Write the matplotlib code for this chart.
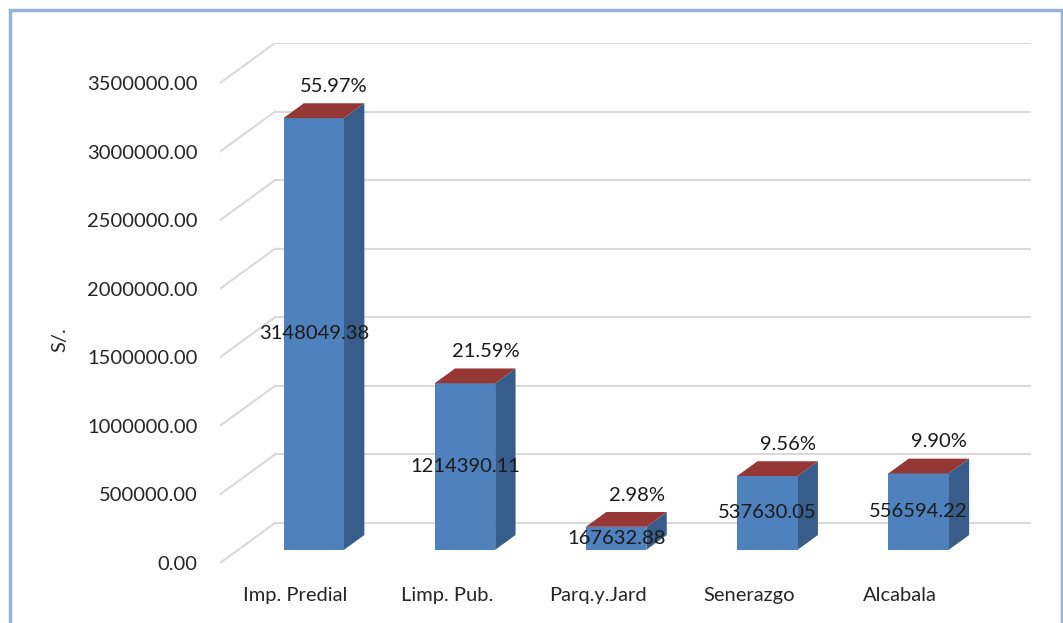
import matplotlib.pyplot as plt
from matplotlib.patches import Polygon, Rectangle

categories = ['Imp. Predial', 'Limp. Pub.', 'Parq.y.Jard', 'Senerazgo', 'Alcabala']
values = [3148049.38, 1214390.11, 167632.88, 537630.05, 556594.22]
percents = ['55.97%', '21.59%', '2.98%', '9.56%', '9.90%']
yticks = [0, 500000, 1000000, 1500000, 2000000, 2500000, 3000000, 3500000]

plt.rcParams['font.family'] = ['Lato', 'DejaVu Sans']

# oblique "3D" offsets in data units (depth of the floor)
DX = 0.364
DY = 291667
Z0, Z1 = 0.33, 0.70   # bar depth range (fraction of floor depth)
W = 0.4               # bar width in category units

front_c = '#4F81BD'
side_c = '#385D8A'
top_c = '#953735'
grid_c = '#D9D9D9'

fig = plt.figure(figsize=(10.63, 6.23), dpi=100)
ax = fig.add_axes([220 / 1063, 1 - 563 / 623, (1031 - 220) / 1063, (563 - 43) / 623])
ax.set_xlim(0, len(categories) + DX)
ax.set_ylim(0, yticks[-1] + DY)

# back wall grid + side wall diagonals
for t in yticks:
    ax.plot([DX, len(categories) + DX], [t + DY, t + DY], color=grid_c, lw=1.5, zorder=1)
    ax.plot([0, DX], [t, t + DY], color=grid_c, lw=1.5, zorder=1)

for i, (v, p) in enumerate(zip(values, percents)):
    x0 = i + 0.5 - W / 2
    x1 = i + 0.5 + W / 2
    ox0, oy0 = Z0 * DX, Z0 * DY
    ox1, oy1 = Z1 * DX, Z1 * DY
    front = [(x0 + ox0, oy0), (x1 + ox0, oy0), (x1 + ox0, v + oy0), (x0 + ox0, v + oy0)]
    side = [(x1 + ox0, oy0), (x1 + ox1, oy1), (x1 + ox1, v + oy1), (x1 + ox0, v + oy0)]
    top = [(x0 + ox0, v + oy0), (x1 + ox0, v + oy0), (x1 + ox1, v + oy1), (x0 + ox1, v + oy1)]
    ax.add_patch(Polygon(side, closed=True, fc=side_c, ec='none', zorder=3))
    ax.add_patch(Polygon(front, closed=True, fc=front_c, ec='none', zorder=3))
    ax.add_patch(Polygon(top, closed=True, fc=top_c, ec='none', zorder=3))
    ax.text(i + 0.5 + ox0, v / 2 + oy0, f'{v:.2f}', ha='center', va='center',
            fontsize=14.5, color='#1a1a1a', zorder=5)
    ax.text(i + 0.5 + ox1, v + oy1 + 60000, p, ha='center', va='bottom',
            fontsize=14.5, color='#1a1a1a', zorder=5)

ax.set_yticks(yticks)
ax.set_yticklabels([f'{t:.2f}' for t in yticks])
ax.set_xticks([i + 0.5 for i in range(len(categories))])
ax.set_xticklabels(categories)
ax.tick_params(axis='y', length=0, pad=16, labelsize=14.5, labelcolor='#262626')
ax.tick_params(axis='x', length=0, pad=17, labelsize=14.5, labelcolor='#262626')
for s in ax.spines.values():
    s.set_visible(False)
ax.patch.set_alpha(0)

fig.text(60 / 1063, 1 - 340 / 623, 'S/.', rotation=90, ha='center', va='center',
         fontsize=14.5, color='#262626')

# chart area border
fig.patches.append(Rectangle((10 / 1063, -0.05), 1052 / 1063, 1.05 - 10 / 623,
                             transform=fig.transFigure, fill=False,
                             ec='#95B3D7', lw=2.5))

fig.savefig('out.png', dpi=100)
